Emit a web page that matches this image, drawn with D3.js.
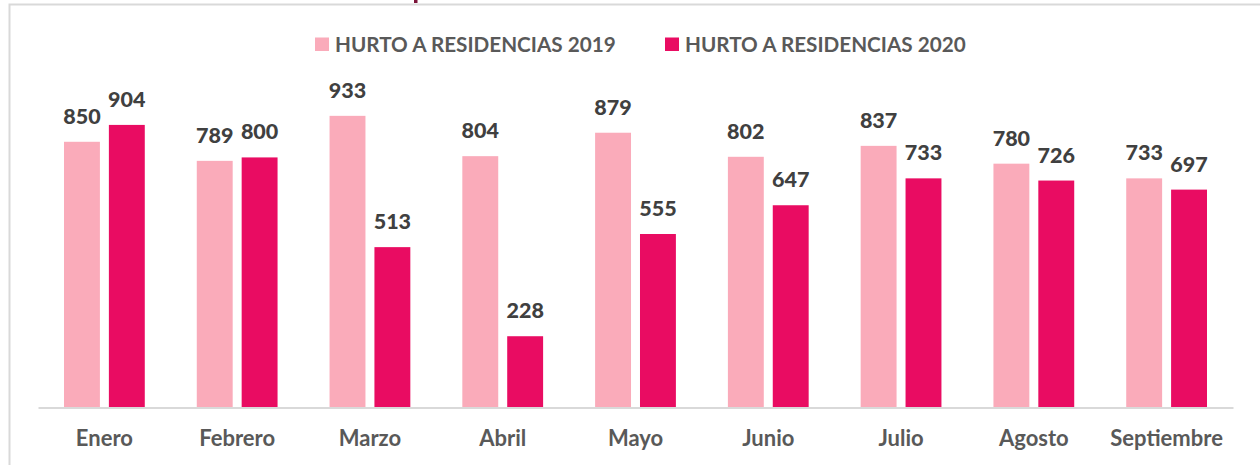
<!DOCTYPE html>
<html>
<head>
<meta charset="utf-8">
<script src="https://cdn.jsdelivr.net/npm/d3@7"></script>
<style>
  body { margin: 0; background: #fff; }
  text { font-family: Lato, "Open Sans", sans-serif; font-weight: bold; }
</style>
</head>
<body>
<div id="chart"></div>
<script>
const months = ["Enero", "Febrero", "Marzo", "Abril", "Mayo", "Junio", "Julio", "Agosto", "Septiembre"];
const series = ["HURTO A RESIDENCIAS 2019", "HURTO A RESIDENCIAS 2020"];
const values2019 = [850, 789, 933, 804, 879, 802, 837, 780, 733];
const values2020 = [904, 800, 513, 228, 555, 647, 733, 726, 697];
const colors = ["#FAABBA", "#E90C62"];

const width = 1260, height = 465;
const margin = {top: 95, right: 27, bottom: 57.5, left: 38};

const svg = d3.select("#chart").append("svg")
    .attr("width", width)
    .attr("height", height);

// chart frame (right and bottom edges fall outside the picture)
svg.append("rect")
    .attr("x", 9.5).attr("y", 4.5)
    .attr("width", 1300).attr("height", 500)
    .attr("fill", "none")
    .attr("stroke", "#d9d9d9")
    .attr("stroke-width", 2);

// bit of the cut-off title above the frame
svg.append("rect")
    .attr("x", 414).attr("y", 0)
    .attr("width", 3.5).attr("height", 3)
    .attr("fill", "#7b1339");

const data = months.map((m, i) => ({month: m, values: [values2019[i], values2020[i]]}));

const x0 = d3.scaleBand()
    .domain(months)
    .range([margin.left, width - margin.right])
    .paddingInner(0)
    .paddingOuter(0);

const x1 = d3.scaleBand()
    .domain([0, 1])
    .range([26, x0.bandwidth() - 26])
    .paddingInner(0.2);

const y = d3.scaleLinear()
    .domain([0, 1000])
    .range([height - margin.bottom, height - margin.bottom - 312.6]);

const groups = svg.selectAll("g.month")
    .data(data)
    .enter().append("g")
    .attr("class", "month")
    .attr("transform", d => `translate(${x0(d.month)},0)`);

groups.selectAll("rect")
    .data(d => d.values)
    .enter().append("rect")
    .attr("x", (d, i) => x1(i))
    .attr("y", d => y(d))
    .attr("width", x1.bandwidth())
    .attr("height", d => y(0) - y(d))
    .attr("fill", (d, i) => colors[i]);

groups.selectAll("text.value")
    .data(d => d.values)
    .enter().append("text")
    .attr("class", "value")
    .attr("x", (d, i) => x1(i) + x1.bandwidth() / 2)
    .attr("y", d => y(d) - 18)
    .attr("text-anchor", "middle")
    .attr("font-size", 21.5)
    .attr("fill", "#404040")
    .style("font-weight", 900)
    .text(d => d);

// x axis
const xAxis = svg.append("g")
    .attr("transform", `translate(0,${y(0)})`)
    .call(d3.axisBottom(x0).tickSize(0).tickPadding(23));
xAxis.select(".domain").attr("stroke", "#d9d9d9").attr("stroke-width", 2);
xAxis.selectAll("text")
    .attr("font-size", 22)
    .attr("fill", "#595959")
    .style("font-family", "Lato, sans-serif")
    .style("font-weight", "bold");

// legend
const legendX = [315, 665];
const legend = svg.selectAll("g.legend")
    .data(series)
    .enter().append("g")
    .attr("class", "legend")
    .attr("transform", (d, i) => `translate(${legendX[i]},37.5)`);
legend.append("rect")
    .attr("width", 14).attr("height", 13.5)
    .attr("fill", (d, i) => colors[i]);
legend.append("text")
    .attr("x", 20).attr("y", 14.3)
    .attr("font-size", 20.7)
    .attr("fill", "#595959")
    .text(d => d);
</script>
</body>
</html>
